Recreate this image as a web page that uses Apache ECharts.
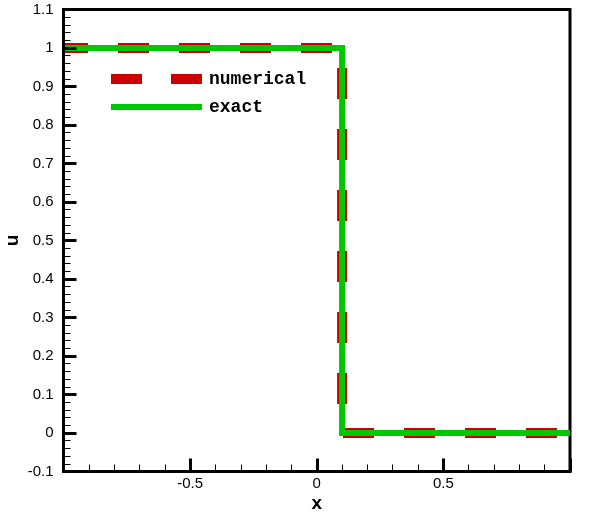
<!DOCTYPE html>
<html>
<head>
<meta charset="utf-8">
<script src="https://cdn.jsdelivr.net/npm/echarts@6/dist/echarts.min.js"></script>
<style>html,body{margin:0;padding:0;background:#fff;}#c{width:596px;height:515px;}</style>
</head>
<body>
<div id="c"></div>
<script>
const seriesNames = ['numerical', 'exact'];
const numericalX = [-1, 0.1, 0.1, 1];
const numericalU = [1, 1, 0, 0];
const exactX = [-1, 0.1, 0.1, 1];
const exactU = [1, 1, 0, 0];
const xTicks = [-1, -0.5, 0, 0.5, 1];
const yTicks = [-0.1, 0, 0.1, 0.2, 0.3, 0.4, 0.5, 0.6, 0.7, 0.8, 0.9, 1, 1.1];

const zip = (xs, ys) => xs.map((x, i) => [x, ys[i]]);
const chart = echarts.init(document.getElementById('c'));
const labelFont = { fontFamily: 'Liberation Sans, Arial, sans-serif', fontSize: 15, color: '#000' };
const RED = '#cc0000', GREEN = '#00c800';
chart.setOption({
  animation: false,
  backgroundColor: '#fff',
  grid: { left: 63.5, right: 26, top: 9.5, bottom: 43.5, containLabel: false, outerBoundsMode: 'none', show: true, borderColor: '#000', borderWidth: 3, backgroundColor: 'transparent' },
  legend: {
    orient: 'vertical', left: 106, top: 70, padding: 0,
    itemWidth: 91, itemHeight: 10, itemGap: 10,
    data: [
      { name: seriesNames[0], itemStyle: { opacity: 0 }, lineStyle: { color: RED, width: 10, type: [31, 29], dashOffset: 0, cap: 'butt' } },
      { name: seriesNames[1], itemStyle: { opacity: 0 }, lineStyle: { color: GREEN, width: 6, type: 'solid', cap: 'butt' } }
    ],
    textStyle: { fontFamily: 'Liberation Mono, Courier New, monospace', fontWeight: 'bold', fontSize: 18, color: '#000', padding: [0, 0, 0, 2] }
  },
  xAxis: {
    type: 'value', min: xTicks[0], max: xTicks[xTicks.length - 1], interval: 0.5, z: 5,
    name: 'x', nameLocation: 'middle', nameGap: 23, nameMoveOverlap: false,
    nameTextStyle: { fontFamily: 'Liberation Sans, Arial, sans-serif', fontWeight: 'bold', fontSize: 19, color: '#000' },
    axisLine: { onZero: false, lineStyle: { color: '#000', width: 3 } },
    axisTick: { inside: true, length: 13, lineStyle: { color: '#000', width: 3 } },
    minorTick: { show: true, splitNumber: 5, length: 7, lineStyle: { color: '#000', width: 1 } },
    splitLine: { show: false },
    axisLabel: Object.assign({ margin: 5, showMinLabel: false, showMaxLabel: false }, labelFont)
  },
  yAxis: {
    type: 'value', min: yTicks[0], max: yTicks[yTicks.length - 1], interval: 0.1, z: 5,
    name: 'u', nameLocation: 'middle', nameGap: 41, nameRotate: 90, nameMoveOverlap: false,
    nameTextStyle: { fontFamily: 'Liberation Sans, Arial, sans-serif', fontWeight: 'bold', fontSize: 19, color: '#000' },
    axisLine: { onZero: false, lineStyle: { color: '#000', width: 3 } },
    axisTick: { inside: true, length: 13, lineStyle: { color: '#000', width: 3 } },
    minorTick: { show: true, splitNumber: 5, length: 7, lineStyle: { color: '#000', width: 1 } },
    splitLine: { show: false },
    axisLabel: Object.assign({ margin: 10 }, labelFont)
  },
  series: [
    {
      name: seriesNames[0], type: 'line', data: zip(numericalX, numericalU), showSymbol: false, symbol: 'none',
      lineStyle: { color: RED, width: 10, type: [31, 30], dashOffset: 6.5, cap: 'butt', join: 'miter' },
      itemStyle: { color: RED }, z: 2
    },
    {
      name: seriesNames[1], type: 'line', data: zip(exactX, exactU), showSymbol: false, symbol: 'none',
      lineStyle: { color: GREEN, width: 6, type: 'solid', cap: 'butt', join: 'miter' },
      itemStyle: { color: GREEN }, z: 3
    }
  ]
});
</script>
</body>
</html>
